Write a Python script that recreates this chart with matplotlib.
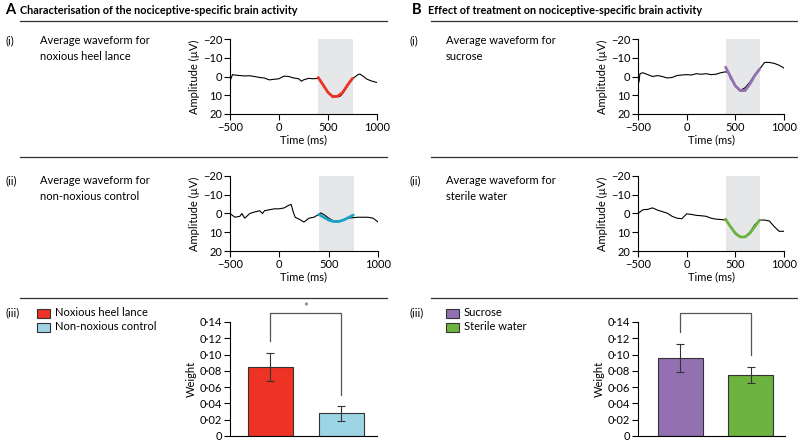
import matplotlib
matplotlib.use("Agg")
import matplotlib.pyplot as plt
from matplotlib.patches import Rectangle
from matplotlib.lines import Line2D

plt.rcParams['font.family'] = ['Lato', 'DejaVu Sans']
plt.rcParams['font.size'] = 8
plt.rcParams['axes.linewidth'] = 0.8
plt.rcParams['xtick.major.width'] = 0.8
plt.rcParams['ytick.major.width'] = 0.8
plt.rcParams['xtick.major.size'] = 4
plt.rcParams['ytick.major.size'] = 4
plt.rcParams['xtick.major.pad'] = 1.5
plt.rcParams['ytick.major.pad'] = 1.5

W, H = 798, 442

# ---- data ----
t_a1 = [-500, -475, -450, -400, -350, -300, -250, -200, -150, -100, -50, 0, 50, 100, 150, 200, 230, 250,
        300, 350, 400, 450, 500, 550, 600, 625, 650, 700, 750, 800, 825, 850, 900, 950, 1000]
amp_a1 = [2.5, -1, -0.8, -0.5, -0.3, -0.4, 0, 0.5, 0.8, 1.8, 1.5, 1.2, -0.2, 0, 0.8, 1.2, 2.5, 1.8,
          1.0, 1.2, 1.0, 4, 8.5, 10.5, 10.8, 10.5, 9, 5, 1.2, -0.8, -1.3, -0.5, 1.5, 2.5, 3.2]
t_fit = [400, 450, 500, 550, 600, 650, 700, 750]
fit_a1 = [0.5, 4.5, 8.5, 10.8, 10.5, 8.5, 4.5, 1.0]

t_a2 = [-500, -450, -400, -380, -350, -300, -250, -200, -170, -150, -100, -50, 0, 50, 75, 100, 120,
        140, 160, 200, 250, 300, 350, 400, 420, 450, 500, 550, 600, 650, 700, 750, 800, 900, 950, 1000]
amp_a2 = [0, 2, 1.5, 0, 2.5, 0, -0.8, -1.5, 0, -1.5, -2, -2.5, -2.5, -3, -3.8, -4.5, -4.8,
          -1, 2, 3, 4.6, 2.5, 2, 0.5, -0.3, 0.5, 2.5, 4, 4, 3.5, 2.5, 2.2, 2, 2, 2.5, 4.5]
fit_a2 = [0.5, 2, 3.5, 4.3, 4.3, 3.5, 2.2, 0.8]

t_b1 = [-500, -490, -480, -450, -400, -350, -300, -250, -200, -150, -100, -50, 0, 50, 100, 150, 200,
        250, 300, 350, 400, 430, 450, 500, 550, 600, 650, 700, 750, 800, 850, 900, 950, 1000]
amp_b1 = [3, 3, -1.5, -2, -1, 0, -0.5, 0, 0.8, 0.5, -0.5, -0.8, -1, -0.8, -1.5, -1.2, -1.5,
          -1, -1.2, -2, -2.5, -2, 1, 5, 7.5, 6, 3, -1, -4, -7.5, -7.5, -7, -6, -4.5]
fit_b1 = [-5, 0, 5, 7.5, 7.5, 4, -0.5, -4]

t_b2 = [-500, -450, -400, -350, -300, -250, -200, -150, -100, -50, 0, 50, 100, 150, 200, 250, 300,
        350, 400, 450, 500, 550, 600, 650, 700, 750, 800, 850, 900, 950, 1000]
amp_b2 = [0, -2, -2.2, -3, -1.8, -1, -0.2, 1.5, 2.5, 2.8, 0.2, 0.5, 1, 1.2, 1.5, 2.5, 3,
          3.2, 3.5, 7, 11, 12.5, 12.3, 10, 6, 3.5, 3.5, 4, 7, 9.5, 9.5]
fit_b2 = [3, 7, 10.5, 12.5, 12.5, 10.5, 7, 3.5]

window = (400, 755)

labels_a = ['Noxious heel lance', 'Non-noxious control']
weights_a = [0.085, 0.028]
err_a = [0.017, 0.009]
colors_a = ['#ee3224', '#9dd5e4']

labels_b = ['Sucrose', 'Sterile water']
weights_b = [0.096, 0.075]
err_b = [0.017, 0.0095]
colors_b = ['#9370b2', '#6db33f']

fig = plt.figure(figsize=(W / 100, H / 100), dpi=100)


def box(l, t, r, b):
    return [l / W, 1 - b / H, (r - l) / W, (b - t) / H]


def fx(x):
    return x / W


def fy(y):
    return 1 - y / H


def wave(rect, t, amp, tfit, fit, col):
    ax = fig.add_axes(box(*rect))
    ax.axvspan(window[0], window[1], color='#e6e7e8', lw=0, zorder=0)
    ax.plot(t, amp, color='black', lw=0.8, zorder=2)
    ax.plot(tfit, fit, color=col, lw=2, zorder=3, solid_capstyle='round')
    ax.set_xlim(-500, 1000)
    ax.set_ylim(20, -20)
    ax.set_xticks([-500, 0, 500, 1000])
    ax.set_xticklabels(['\u2212500', '0', '500', '1000'])
    ax.set_yticks([-20, -10, 0, 10, 20])
    ax.set_yticklabels(['\u221220', '\u221210', '0', '10', '20'])
    ax.spines[['top', 'right']].set_visible(False)
    ax.set_xlabel('Time (ms)', labelpad=1)
    ax.set_ylabel('Amplitude (\u00b5V)', labelpad=2)
    return ax


def bars(rect, xl, vals, errs, cols, bracket, star):
    ax = fig.add_axes(box(*rect))
    ax.bar([0, 1], vals, width=0.64, color=cols, edgecolor='#333333', lw=0.8, zorder=2)
    ax.errorbar([0, 1], vals, yerr=errs, fmt='none', ecolor='#333333', elinewidth=0.8,
                capsize=3, capthick=0.8, zorder=3)
    ax.set_xlim(*xl)
    ax.set_ylim(0, 0.14)
    ax.set_xticks([])
    yt = [0, 0.02, 0.04, 0.06, 0.08, 0.10, 0.12, 0.14]
    ax.set_yticks(yt)
    ax.set_yticklabels(['0'] + ['0\u00b7%02d' % round(v * 100) for v in yt[1:]])
    ax.spines[['top', 'right']].set_visible(False)
    ax.set_ylabel('Weight', labelpad=2)
    top = 0.151
    ax.plot([0, 0, 1, 1], [bracket[0], top, top, bracket[1]], color='#555555', lw=0.9,
            clip_on=False)
    if star:
        ax.text(0.5, top + 0.0005, '*', ha='center', va='bottom', fontsize=8, color='#555555')
    return ax


wave((230, 39, 377, 114), t_a1, amp_a1, t_fit, fit_a1, '#ee3224')
wave((230, 176, 378, 251), t_a2, amp_a2, t_fit, fit_a2, '#1aa3c8')
bars((230, 322, 377, 436), (-0.57, 1.5), weights_a, err_a, colors_a, (0.117, 0.050), True)

wave((638, 39, 784, 114), t_b1, amp_b1, t_fit, fit_b1, '#9370b2')
wave((638, 176, 784, 251), t_b2, amp_b2, t_fit, fit_b2, '#6db33f')
bars((638, 322, 785, 436), (-0.6, 1.49), weights_b, err_b, colors_b, (0.128, 0.0996), False)

# headers and separators
fig.text(fx(5), fy(10), 'A', fontsize=10.5, fontweight='bold', va='center')
fig.text(fx(20), fy(10), 'Characterisation of the nociceptive-specific brain activity',
         fontsize=7.8, fontweight='bold', va='center')
fig.text(fx(412), fy(10), 'B', fontsize=10.5, fontweight='bold', va='center')
fig.text(fx(428), fy(10), 'Effect of treatment on nociceptive-specific brain activity',
         fontsize=7.8, fontweight='bold', va='center')

for y in [21, 157, 298]:
    fig.add_artist(Line2D([fx(20), fx(387)], [fy(y), fy(y)], color='#333333', lw=0.9))
    fig.add_artist(Line2D([fx(431), fx(798)], [fy(y), fy(y)], color='#333333', lw=0.9))

rows = [('(i)', 41, ['Average waveform for', 'noxious heel lance'], ['Average waveform for', 'sucrose']),
        ('(ii)', 181, ['Average waveform for', 'non-noxious control'], ['Average waveform for', 'sterile water'])]
for num, y, ta, tb in rows:
    fig.text(fx(5), fy(y), num, va='center', fontsize=8)
    fig.text(fx(409), fy(y), num, va='center', fontsize=8)
    for k in range(2):
        fig.text(fx(40), fy(y + 16 * k), ta[k], va='center', fontsize=8)
        fig.text(fx(446), fy(y + 16 * k), tb[k], va='center', fontsize=8)

fig.text(fx(5), fy(313), '(iii)', va='center', fontsize=8)
fig.text(fx(409), fy(313), '(iii)', va='center', fontsize=8)
for k in range(2):
    y = 313 + 14 * k
    fig.add_artist(Rectangle((fx(37), fy(y + 4.5)), 13 / W, 9 / H, facecolor=colors_a[k],
                             edgecolor='#333333', lw=0.8))
    fig.text(fx(55), fy(y), labels_a[k], va='center', fontsize=8)
    fig.add_artist(Rectangle((fx(446), fy(y + 4.5)), 13 / W, 9 / H, facecolor=colors_b[k],
                             edgecolor='#333333', lw=0.8))
    fig.text(fx(464), fy(y), labels_b[k], va='center', fontsize=8)

fig.savefig('out.png', dpi=100)
